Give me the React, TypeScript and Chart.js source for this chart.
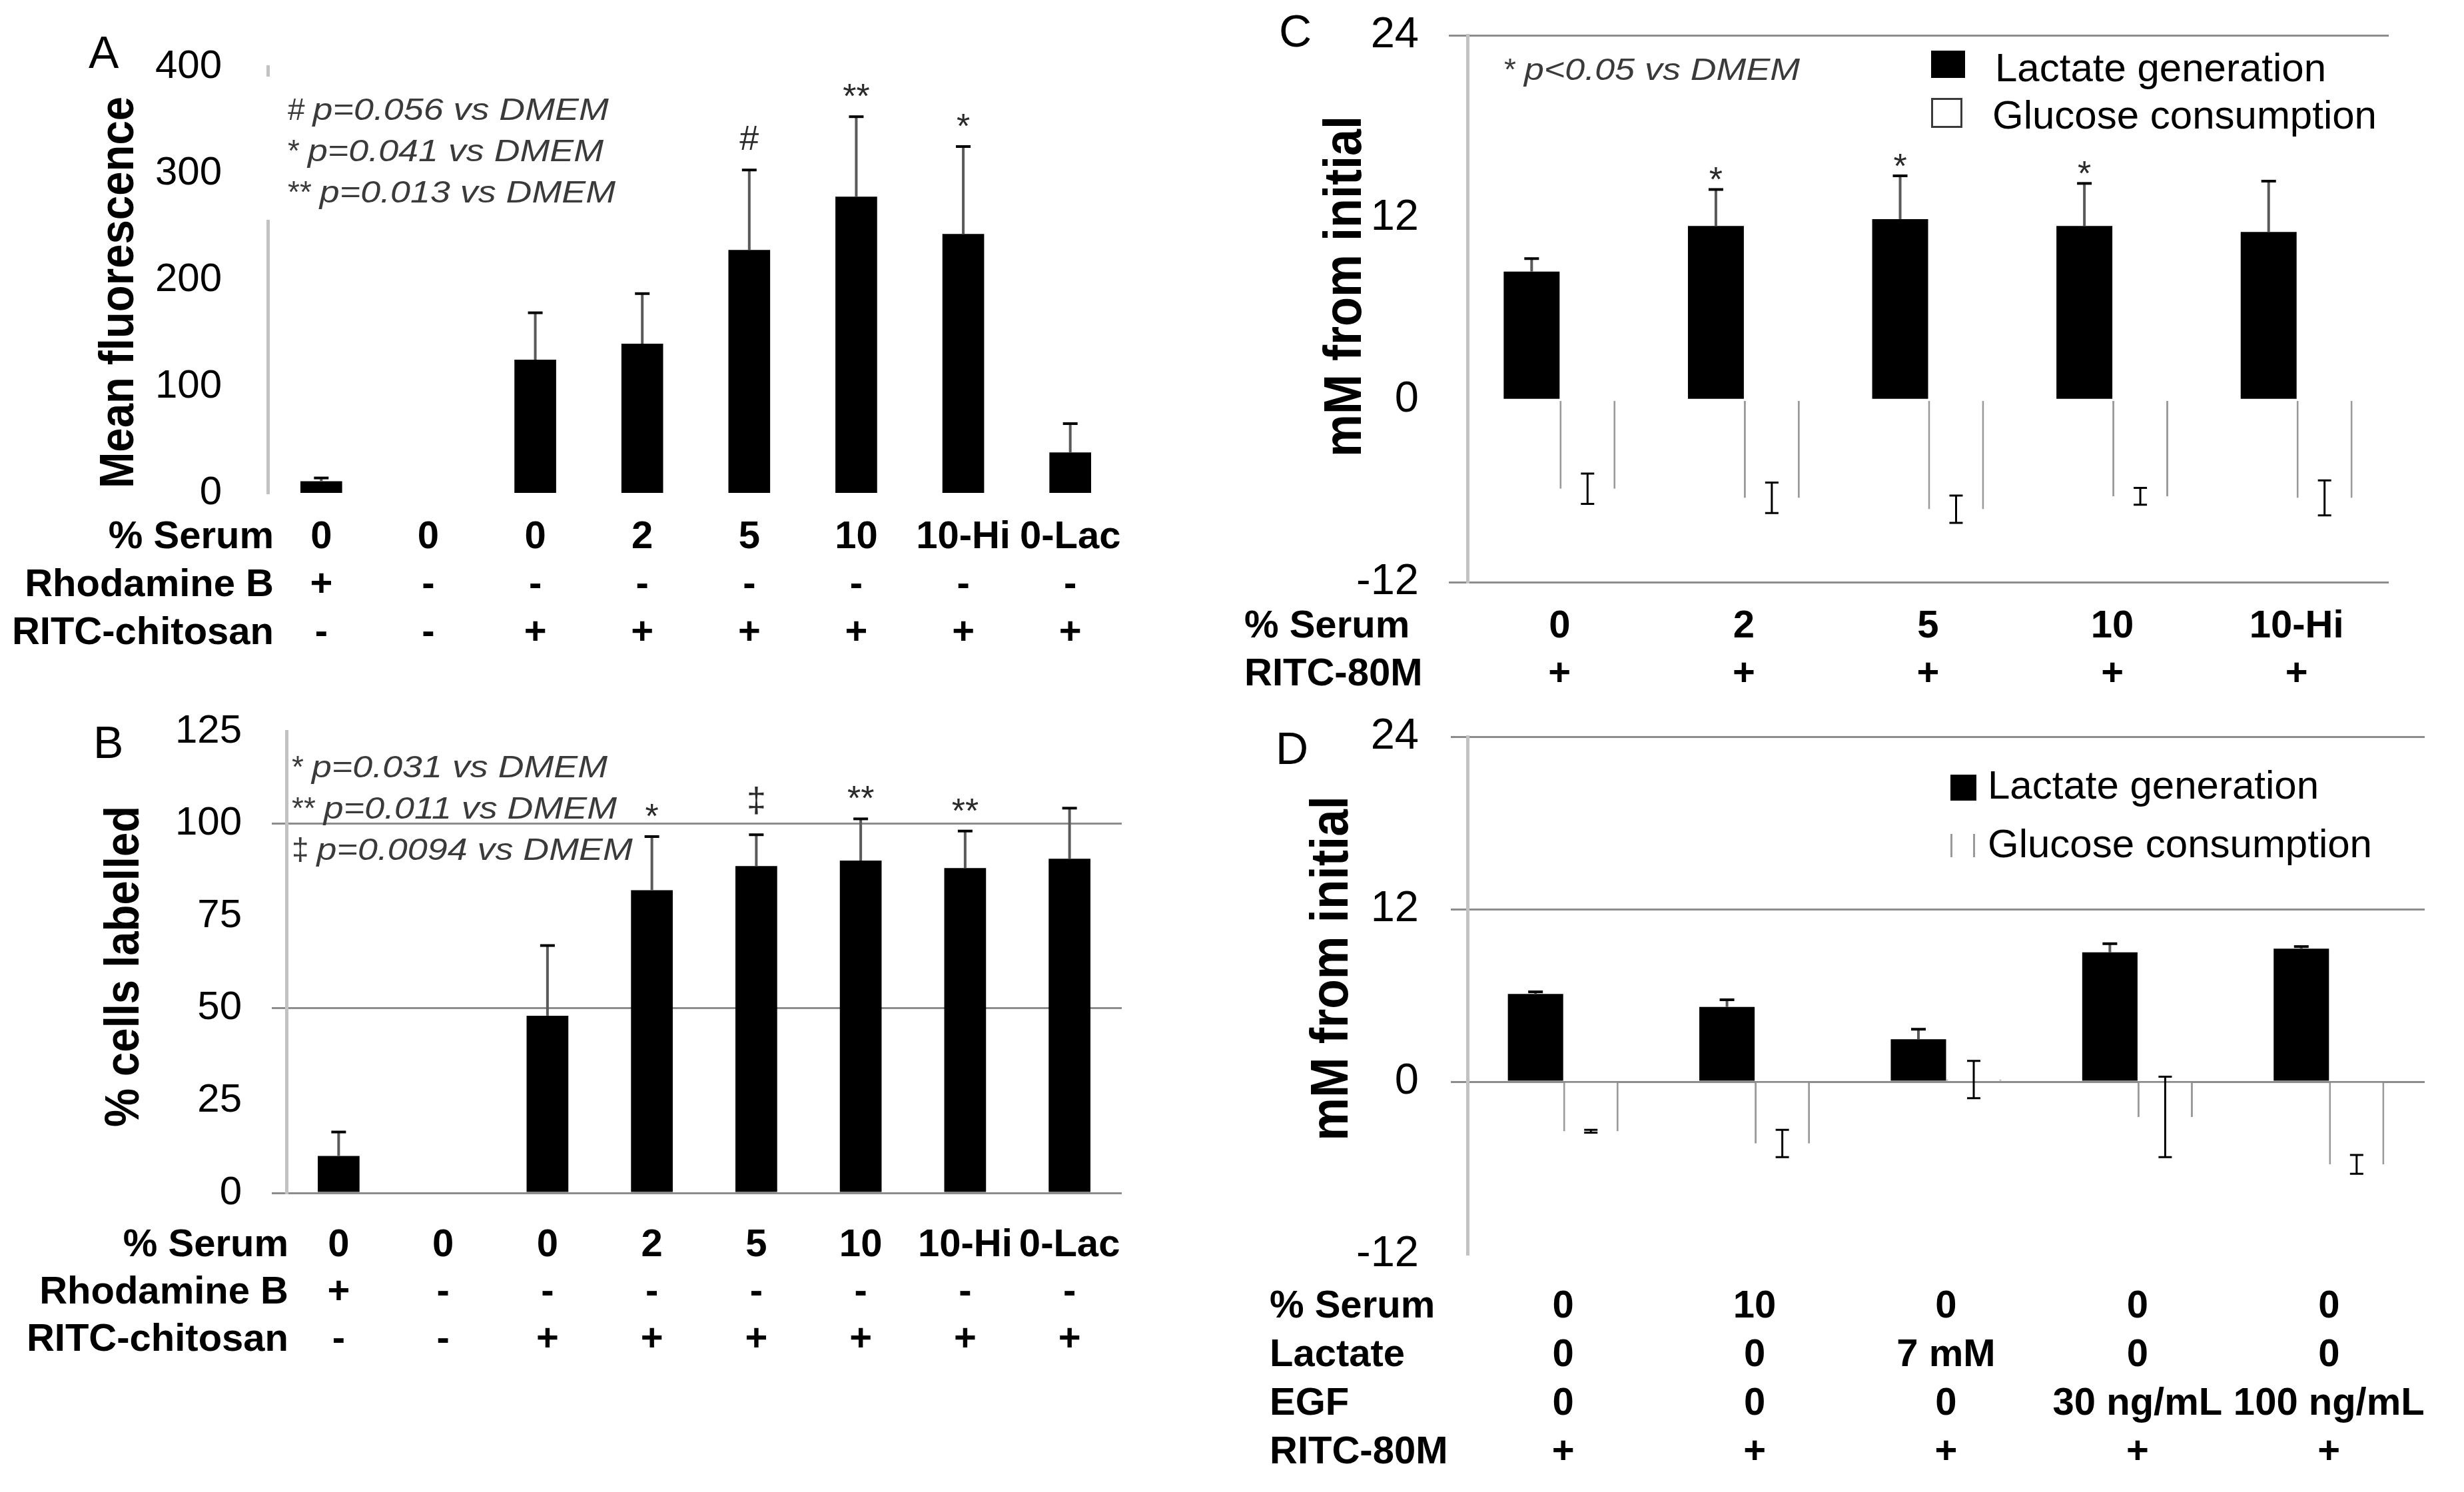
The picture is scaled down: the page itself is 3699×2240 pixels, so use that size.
import React, { useEffect, useRef } from 'react';
import { Chart, registerables } from 'chart.js';

Chart.register(...registerables);

const FONT = "'Liberation Sans', Arial, Helvetica, sans-serif";

// ---------------- Panel A / B shared categories ----------------
const serumAB = ['0', '0', '0', '2', '5', '10', '10-Hi', '0-Lac'];
const rhodamineAB = ['+', '-', '-', '-', '-', '-', '-', '-'];
const ritcChitosanAB = ['-', '-', '+', '+', '+', '+', '+', '+'];
const rowLabelsAB = ['% Serum', 'Rhodamine B', 'RITC-chitosan'];

// ---------------- Panel A ----------------
const fluorescenceA = [11, null, 125, 140, 228, 278, 243, 38];
const fluorescenceErrA = [3, null, 44, 47, 75, 75, 82, 27];
const markersA = ['', '', '', '', '#', '**', '*', ''];
const notesA = [
  ['#', 'p=0.056 vs DMEM'],
  ['*', 'p=0.041 vs DMEM'],
  ['**', 'p=0.013 vs DMEM'],
];
const ticksA = { min: 0, max: 400, step: 100 };

// ---------------- Panel B ----------------
const labelledB = [10, null, 48, 82, 88.5, 90, 88, 90.5];
const labelledErrB = [6.5, null, 19, 14.5, 8.5, 11.3, 10, 13.7];
const markersB = ['', '', '', '*', '‡', '**', '**', ''];
const notesB = [
  ['*', 'p=0.031 vs DMEM'],
  ['**', 'p=0.011 vs DMEM'],
  ['‡', 'p=0.0094 vs DMEM'],
];
const ticksB = { min: 0, max: 125, step: 25 };
const gridB = [0, 50, 100];

// ---------------- Panel C ----------------
const serumC = ['0', '2', '5', '10', '10-Hi'];
const ritc80mC = ['+', '+', '+', '+', '+'];
const rowLabelsC = ['% Serum', 'RITC-80M'];
const lactateC = [8.45, 11.45, 11.9, 11.45, 11.05];
const lactateErrC = [0.85, 2.4, 2.85, 2.8, 3.35];
const glucoseC = [-5.85, -6.45, -7.2, -6.35, -6.45];
const glucoseErrC = [1.0, 1.0, 0.9, 0.55, 1.15];
const markersC = ['', '*', '*', '*', ''];
const notesC = [['*', 'p<0.05 vs DMEM']];
const ticksCD = { min: -12, max: 24, step: 12 };
const gridC = [24, -12];

// ---------------- Panel D ----------------
const serumD = ['0', '10', '0', '0', '0'];
const lactateAddedD = ['0', '0', '7 mM', '0', '0'];
const egfD = ['0', '0', '0', '30 ng/mL', '100 ng/mL'];
const ritc80mD = ['+', '+', '+', '+', '+'];
const rowLabelsD = ['% Serum', 'Lactate', 'EGF', 'RITC-80M'];
const lactateD = [6.1, 5.2, 2.95, 9.0, 9.25];
const lactateErrD = [0.15, 0.5, 0.7, 0.6, 0.15];
const glucoseD = [-3.45, -4.3, 0.15, -2.45, -5.75];
const glucoseErrD = [0.1, 0.95, 1.3, 2.8, 0.65];
const gridD = [24, 12, 0];

const LACTATE = 'Lactate generation';
const GLUCOSE = 'Glucose consumption';

type DS = {
  label: string;
  data: (number | null)[];
  errors: (number | null)[];
  mode: 'up' | 'both';
  fill: string;
  stroke?: string;
  sides?: number;
};

type Spec = {
  key: string;
  ox: number; oy: number; w: number; h: number;
  area: { left: number; top: number; right: number; bottom: number };
  categories: string[];
  datasets: DS[];
  barPct: number; catPct: number;
  y: { min: number; max: number; step: number; size: number; pad: number; grid: number[]; tickLen: number };
  letter: { text: string; x: number; y: number };
  title: { text: string; x: number; y: number; size: number; sx: number };
  notes: { lines: string[][]; x: number; y: number; dy: number; mask?: number[] };
  rows: { labels: string[]; values: string[][]; x: number; align: 'left' | 'right'; y: number; dy: number };
  markers: { symbols: string[]; gap: number };
  legend?: { style: 'box' | 'sides'; items: { x: number; y: number; w: number; h: number; tx: number; ty: number }[] };
};

// Canvases overlap (transparent), each placed so the library's label padding
// does not push the plot area away from the intended position.
const specs: Spec[] = [
  {
    key: 'A', ox: 0, oy: -20, w: 1850, h: 1070,
    area: { left: 402, top: 100, right: 1687, bottom: 740 },
    categories: serumAB,
    datasets: [{ label: 'Mean fluorescence', data: fluorescenceA, errors: fluorescenceErrA, mode: 'up', fill: '#000' }],
    barPct: 0.39, catPct: 1,
    y: { min: ticksA.min, max: ticksA.max, step: ticksA.step, size: 60, pad: 69, grid: [], tickLen: 0 },
    letter: { text: 'A', x: 133, y: 102 },
    title: { text: 'Mean fluorescence', x: 200, y: 439, size: 73, sx: 0.895 },
    notes: { lines: notesA, x: 432, y: 180, dy: 62, mask: [390, 115, 550, 215] },
    rows: { labels: rowLabelsAB, values: [serumAB, rhodamineAB, ritcChitosanAB], x: 411, align: 'right', y: 823, dy: 72 },
    markers: { symbols: markersA, gap: 30 },
  },
  {
    key: 'B', ox: 0, oy: 980, w: 1850, h: 1260,
    area: { left: 430, top: 1098, right: 1684, bottom: 1791 },
    categories: serumAB,
    datasets: [{ label: '% cells labelled', data: labelledB, errors: labelledErrB, mode: 'up', fill: '#000' }],
    barPct: 0.4, catPct: 1,
    y: { min: ticksB.min, max: ticksB.max, step: ticksB.step, size: 60, pad: 45, grid: gridB, tickLen: 22 },
    letter: { text: 'B', x: 140, y: 1138 },
    title: { text: '% cells labelled', x: 208, y: 1451, size: 73, sx: 0.893 },
    notes: { lines: notesB, x: 438, y: 1167, dy: 62 },
    rows: { labels: rowLabelsAB, values: [serumAB, rhodamineAB, ritcChitosanAB], x: 433, align: 'right', y: 1886, dy: 71 },
    markers: { symbols: markersB, gap: 30 },
  },
  {
    key: 'C', ox: 1850, oy: -60, w: 1849, h: 1120,
    area: { left: 2203, top: 53, right: 3586, bottom: 874 },
    categories: serumC,
    datasets: [
      { label: LACTATE, data: lactateC, errors: lactateErrC, mode: 'up', fill: '#000' },
      { label: GLUCOSE, data: glucoseC, errors: glucoseErrC, mode: 'both', fill: '#fff', stroke: '#9a9a9a', sides: 3 },
    ],
    barPct: 1, catPct: 0.607,
    y: { min: ticksCD.min, max: ticksCD.max, step: ticksCD.step, size: 65, pad: 45, grid: gridC, tickLen: 28 },
    letter: { text: 'C', x: 1920, y: 70 },
    title: { text: 'mM from initial', x: 2043, y: 430, size: 80, sx: 0.9 },
    notes: { lines: notesC, x: 2258, y: 120, dy: 62 },
    rows: { labels: rowLabelsC, values: [serumC, ritc80mC], x: 1868, align: 'left', y: 957, dy: 72 },
    markers: { symbols: markersC, gap: 14 },
    legend: {
      style: 'box',
      items: [
        { x: 2899, y: 76, w: 51, h: 41, tx: 2995, ty: 122 },
        { x: 2899, y: 147, w: 47, h: 45, tx: 2991, ty: 193 },
      ],
    },
  },
  {
    key: 'D', ox: 1850, oy: 990, w: 1849, h: 1250,
    area: { left: 2203, top: 1106, right: 3640, bottom: 1883 },
    categories: serumD,
    datasets: [
      { label: LACTATE, data: lactateD, errors: lactateErrD, mode: 'up', fill: '#000' },
      { label: GLUCOSE, data: glucoseD, errors: glucoseErrD, mode: 'both', fill: '#fff', stroke: '#9a9a9a', sides: 3 },
    ],
    barPct: 1, catPct: 0.578,
    y: { min: ticksCD.min, max: ticksCD.max, step: ticksCD.step, size: 65, pad: 48, grid: gridD, tickLen: 25 },
    letter: { text: 'D', x: 1915, y: 1147 },
    title: { text: 'mM from initial', x: 2023, y: 1454, size: 80, sx: 0.91 },
    notes: { lines: [], x: 0, y: 0, dy: 0 },
    rows: { labels: rowLabelsD, values: [serumD, lactateAddedD, egfD, ritc80mD], x: 1906, align: 'left', y: 1978, dy: 73 },
    markers: { symbols: [], gap: 14 },
    legend: {
      style: 'sides',
      items: [
        { x: 2928, y: 1163, w: 39, h: 39, tx: 2984, ty: 1199 },
        { x: 2928, y: 1252, w: 37, h: 35, tx: 2984, ty: 1287 },
      ],
    },
  },
];

function txt(ctx: CanvasRenderingContext2D, s: string, x: number, y: number, font: string, color: string,
  align: 'left' | 'right' | 'center' = 'left', sx = 1) {
  ctx.save();
  ctx.font = font;
  ctx.fillStyle = color;
  ctx.textBaseline = 'alphabetic';
  ctx.textAlign = 'left';
  const w = ctx.measureText(s).width * sx;
  const left = align === 'right' ? x - w : align === 'center' ? x - w / 2 : x;
  ctx.translate(left, y);
  ctx.scale(sx, 1);
  ctx.fillText(s, 0, 0);
  ctx.restore();
}

function decorPlugin(s: Spec) {
  return {
    id: 'decor' + s.key,
    afterDatasetsDraw(chart: any) {
      const ctx: CanvasRenderingContext2D = chart.ctx;
      const ys = chart.scales.y;
      const xs = chart.scales.x;

      // error bars
      chart.data.datasets.forEach((ds: any, di: number) => {
        const meta = chart.getDatasetMeta(di);
        const errs = ds.errorBars as (number | null)[];
        if (!errs) return;
        meta.data.forEach((el: any, i: number) => {
          const v = ds.data[i];
          const e = errs[i];
          if (v == null || e == null) return;
          const cx = el.x;
          const top = ys.getPixelForValue(v + e);
          const both = ds.errorMode === 'both';
          const bot = both ? ys.getPixelForValue(v - e) : ys.getPixelForValue(v);
          ctx.save();
          ctx.lineCap = 'butt';
          ctx.strokeStyle = both ? '#000' : '#5a5a5a';
          ctx.lineWidth = both ? 3 : 4;
          ctx.beginPath();
          ctx.moveTo(cx, top);
          ctx.lineTo(cx, bot);
          ctx.stroke();
          ctx.strokeStyle = '#000';
          ctx.lineWidth = both ? 3 : 4;
          const cap = both ? 10 : 11;
          ctx.beginPath();
          ctx.moveTo(cx - cap, top);
          ctx.lineTo(cx + cap, top);
          if (both) {
            ctx.moveTo(cx - cap, bot);
            ctx.lineTo(cx + cap, bot);
          }
          ctx.stroke();
          ctx.restore();
        });
      });

      // significance markers above first dataset
      const ds0 = chart.data.datasets[0];
      const meta0 = chart.getDatasetMeta(0);
      s.markers.symbols.forEach((sym, i) => {
        if (!sym) return;
        const v = ds0.data[i];
        const e = ds0.errorBars[i] || 0;
        if (v == null) return;
        const top = ys.getPixelForValue(v + e);
        ctx.save();
        ctx.font = `52px ${FONT}`;
        ctx.fillStyle = '#2a2a2a';
        ctx.textAlign = 'center';
        ctx.textBaseline = 'alphabetic';
        const m = ctx.measureText(sym);
        ctx.fillText(sym, meta0.data[i].x, top - s.markers.gap - m.actualBoundingBoxDescent);
        ctx.restore();
      });

      ctx.save();
      ctx.translate(-s.ox, -s.oy);

      // mask behind notes (hides part of axis line in A)
      if (s.notes.mask) {
        const [mx, my, mw, mh] = s.notes.mask;
        ctx.fillStyle = '#fff';
        ctx.fillRect(mx, my, mw, mh);
      }

      // notes
      s.notes.lines.forEach(([prefix, rest], li) => {
        const by = s.notes.y + li * s.notes.dy;
        ctx.font = `46px ${FONT}`;
        const pw = ctx.measureText(prefix).width;
        txt(ctx, prefix, s.notes.x, by, `46px ${FONT}`, '#3a3a3a');
        txt(ctx, rest, s.notes.x + pw + 12, by, `italic 46px ${FONT}`, '#3a3a3a', 'left', 1.17);
      });

      // panel letter
      txt(ctx, s.letter.text, s.letter.x, s.letter.y, `68px ${FONT}`, '#000');

      // y-axis title
      ctx.save();
      ctx.translate(s.title.x, s.title.y);
      ctx.rotate(-Math.PI / 2);
      ctx.scale(s.title.sx, 1);
      ctx.font = `bold ${s.title.size}px ${FONT}`;
      ctx.fillStyle = '#000';
      ctx.textAlign = 'center';
      ctx.textBaseline = 'alphabetic';
      ctx.fillText(s.title.text, 0, 0);
      ctx.restore();

      // rows table under the axis
      const rowFont = `bold 58px ${FONT}`;
      s.rows.labels.forEach((lab, ri) => {
        const by = s.rows.y + ri * s.rows.dy;
        txt(ctx, lab, s.rows.x, by, rowFont, '#000', s.rows.align);
        s.rows.values[ri].forEach((val, ci) => {
          const px = xs.getPixelForValue(ci) + s.ox;
          txt(ctx, val, px, by, rowFont, '#000', 'center');
        });
      });

      // legend
      if (s.legend) {
        s.legend.items.forEach((it, li) => {
          const ds = chart.data.datasets[li];
          if (li === 0) {
            ctx.fillStyle = ds.backgroundColor;
            ctx.fillRect(it.x, it.y, it.w, it.h);
          } else if (s.legend!.style === 'box') {
            ctx.fillStyle = ds.backgroundColor;
            ctx.fillRect(it.x, it.y, it.w, it.h);
            ctx.strokeStyle = '#3a3a3a';
            ctx.lineWidth = 3;
            ctx.strokeRect(it.x + 1.5, it.y + 1.5, it.w - 3, it.h - 3);
          } else {
            ctx.strokeStyle = ds.borderColor;
            ctx.lineWidth = 3;
            ctx.beginPath();
            ctx.moveTo(it.x + 1.5, it.y);
            ctx.lineTo(it.x + 1.5, it.y + it.h);
            ctx.moveTo(it.x + it.w - 1.5, it.y);
            ctx.lineTo(it.x + it.w - 1.5, it.y + it.h);
            ctx.stroke();
          }
          txt(ctx, ds.label, it.tx, it.ty, `60px ${FONT}`, '#000');
        });
      }

      ctx.restore();
    },
  };
}

function buildConfig(s: Spec): any {
  const datasets = s.datasets.map((d) => ({
    label: d.label,
    data: d.data,
    backgroundColor: d.fill,
    borderColor: d.stroke || d.fill,
    borderWidth: d.sides ? { top: 0, bottom: 0, left: d.sides, right: d.sides } : 0,
    borderSkipped: false,
    barPercentage: s.barPct,
    categoryPercentage: s.catPct,
    errorBars: d.errors,
    errorMode: d.mode,
  }));
  const gridVals = s.y.grid;
  return {
    type: 'bar',
    data: { labels: s.categories, datasets },
    options: {
      responsive: false,
      animation: false,
      devicePixelRatio: 1,
      events: [],
      layout: {
        padding: {
          left: 0,
          top: s.area.top - s.oy,
          right: s.ox + s.w - s.area.right,
          bottom: s.oy + s.h - s.area.bottom,
        },
      },
      plugins: { legend: { display: false }, tooltip: { enabled: false }, title: { display: false } },
      scales: {
        x: { display: false, offset: true, grid: { display: false } },
        y: {
          min: s.y.min,
          max: s.y.max,
          afterFit: (sc: any) => { sc.width = s.area.left - s.ox; },
          ticks: { stepSize: s.y.step, font: { family: FONT, size: s.y.size }, color: '#000', padding: s.y.pad },
          grid: {
            display: gridVals.length > 0,
            color: (c: any) => (c.tick && gridVals.includes(c.tick.value) ? '#8c8c8c' : 'rgba(0,0,0,0)'),
            lineWidth: 3,
            drawTicks: true,
            tickLength: s.y.tickLen,
          },
          border: { display: true, color: '#c2c2c2', width: 5 },
        },
      },
    },
    plugins: [decorPlugin(s)],
  };
}

function Panel({ spec }: { spec: Spec }) {
  const ref = useRef<HTMLCanvasElement>(null);
  useEffect(() => {
    const chart = new Chart(ref.current as HTMLCanvasElement, buildConfig(spec));
    return () => chart.destroy();
  }, [spec]);
  return (
    <canvas
      ref={ref}
      width={spec.w}
      height={spec.h}
      style={{ position: 'absolute', left: spec.ox, top: spec.oy, width: spec.w, height: spec.h }}
    />
  );
}

export default function App() {
  return (
    <div style={{ position: 'absolute', left: 0, top: 0, width: 3699, height: 2240, background: '#fff', overflow: 'hidden' }}>
      {specs.map((s) => (
        <Panel key={s.key} spec={s} />
      ))}
    </div>
  );
}
